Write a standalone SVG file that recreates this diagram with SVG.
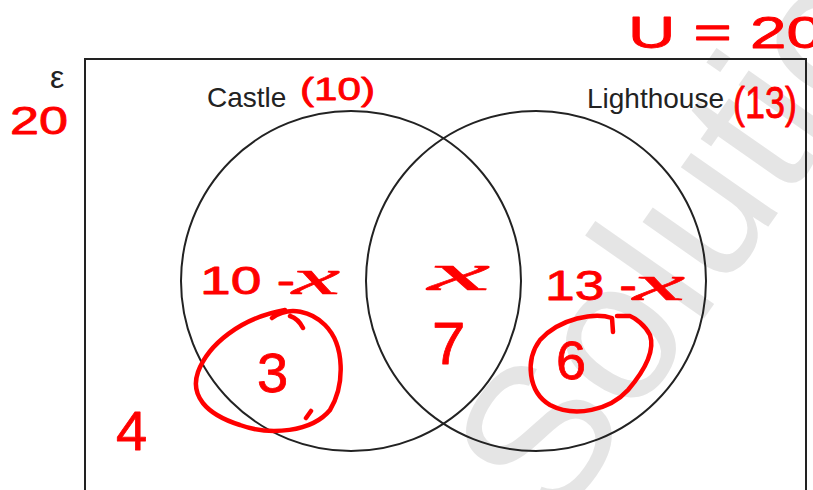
<svg xmlns="http://www.w3.org/2000/svg" width="813" height="490" viewBox="0 0 813 490">
<style>
.line{fill:none;stroke:#222;stroke-width:2}
.lbl{font-family:"Liberation Sans",Arial,sans-serif;fill:#222}
.hw{font-family:"Liberation Sans",Arial,sans-serif;fill:#ff0000;stroke:#ff0000;stroke-width:0.8;stroke-linejoin:round}
.hwx{font-family:"Liberation Serif","Times New Roman",serif;font-style:italic;fill:#ff0000;stroke:#ff0000;stroke-width:0.6}
.loop{fill:none;stroke:#ff0000;stroke-width:4.5;stroke-linecap:round;stroke-linejoin:round}
.wm{font-family:"Liberation Sans",Arial,sans-serif;fill:#e5e5e5}
</style>
<rect width="813" height="490" fill="#fff"/>
<text class="wm" x="556" y="530" font-size="200" transform="rotate(-55 556 530)">Solutions</text>
<g id="universe">
<rect class="line" x="85" y="59" width="721" height="450"/>
<text class="lbl" x="50" y="88" font-size="32">ε</text>
</g>
<g id="castle">
<circle class="line" cx="351" cy="281" r="170"/>
<text class="lbl" x="207" y="107" font-size="28">Castle</text>
</g>
<g id="lighthouse">
<circle class="line" cx="536" cy="281" r="170"/>
<text class="lbl" x="587" y="108" font-size="28">Lighthouse</text>
</g>
<g id="connectors"></g>
<g id="annotations">
<text class="hw" x="10" y="134" font-size="38" textLength="58" lengthAdjust="spacingAndGlyphs">20</text>
<text class="hw" x="628" y="48" font-size="44" textLength="195" lengthAdjust="spacingAndGlyphs">U = 20</text>
<text class="hw" x="300" y="100" font-size="32" textLength="75" lengthAdjust="spacingAndGlyphs">(10)</text>
<text class="hw" x="733" y="118" font-size="44" textLength="64" lengthAdjust="spacingAndGlyphs">(13)</text>
<text class="hw" x="200" y="294" font-size="38" textLength="95" lengthAdjust="spacingAndGlyphs">10 -</text>
<text class="hwx" x="292" y="294" font-size="50" textLength="48" lengthAdjust="spacingAndGlyphs">x</text>
<text class="hwx" x="428" y="290" font-size="52" textLength="62" lengthAdjust="spacingAndGlyphs">x</text>
<text class="hw" x="545" y="300" font-size="42" textLength="92" lengthAdjust="spacingAndGlyphs">13 -</text>
<text class="hwx" x="633" y="300" font-size="50" textLength="52" lengthAdjust="spacingAndGlyphs">x</text>
<text class="hw" x="257" y="392" font-size="56">3</text>
<text class="hw" x="432" y="364" font-size="60">7</text>
<text class="hw" x="556" y="379" font-size="54">6</text>
<text class="hw" x="116" y="450" font-size="56">4</text>
<path class="loop" d="M272,318 C290,305 312,312 325,325 C345,345 345,385 330,410 C312,432 270,436 240,425 C205,414 190,395 198,372 C208,345 240,318 285,310 M303,328 C300,322 296,318 290,316 M306,418 L311,411"/>
<path class="loop" d="M613,332 L612,318 C595,312 560,318 540,340 C525,360 528,392 550,405 C575,418 610,410 628,390 C645,370 655,350 650,335 C645,325 635,318 630,316 L617,316"/>
</g>
</svg>
